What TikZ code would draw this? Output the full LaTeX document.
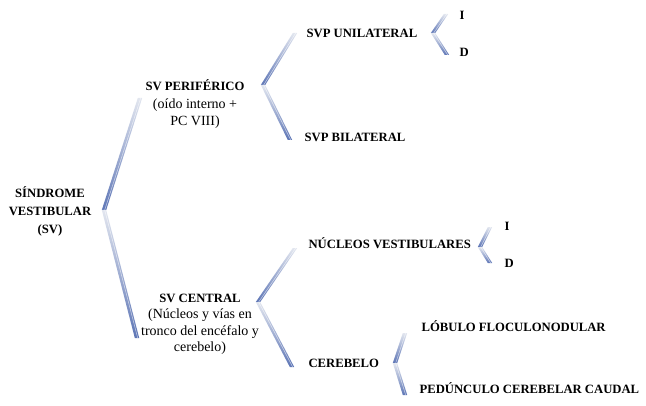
\documentclass[tikz,border=0pt]{standalone}
\usepackage{fontspec}
\setmainfont{Liberation Serif}
\usepackage{tikz}
\usetikzlibrary{positioning}
\definecolor{brBlue}{HTML}{5E76B6}
\definecolor{brLight}{HTML}{E2E6EF}

\begin{document}
\begin{tikzpicture}[x=0.75pt,y=-0.75pt,
  head/.style={font=\fontsize{9.5}{13.5}\selectfont\bfseries,inner sep=1pt},
  sub/.style={font=\fontsize{10.5}{12.5}\selectfont,align=center,inner sep=1pt},
  arm/.style={top color=brLight,bottom color=brBlue,draw=none}]
  \useasboundingbox (0,0) rectangle (646,406);
  % brackets (top / vertex / bottom)
  \foreach \tx/\ty/\vx/\vy/\bx/\by in {140/98/104/210/137/338, 295/33/263/85/290/140,
      446/14/433/33/447/55, 295/248/258/302/292/367, 490/227/480/247/490/263, 405/333/395/363/405/395}{
    \shade[arm] (\tx-2.2,\ty) -- (\tx+2.2,\ty) -- (\vx+2.2,\vy) -- (\vx-2.2,\vy) -- cycle;
    \shade[arm] (\vx-2.2,\vy) -- (\vx+2.2,\vy) -- (\bx+2.2,\by) -- (\bx-2.2,\by) -- cycle;
    \draw[white,opacity=.6,line width=.4pt] (\tx+.7,\ty) -- (\vx+.7,\vy) -- (\bx+.7,\by);}
  % root
  \node[head,align=center] (sv) at (50,211) {SÍNDROME\\VESTIBULAR\\(SV)};
  % peripheral branch
  \node[head] (per) at (195,85) {SV PERIFÉRICO};
  \node[sub,below=4pt of per] (perTxt) {(oído interno +\\PC VIII)};
  \node[head,anchor=west] (uni) at (305,33) {SVP UNILATERAL};
  \node[head,anchor=west] (bil) at (303,137) {SVP BILATERAL};
  \node[head,anchor=west] (uniI) at (458,15) {I};
  \node[head,anchor=west] (uniD) at (458,52) {D};
  % central branch
  \node[head] (cen) at (200,298) {SV CENTRAL};
  \node[sub,below=2.5pt of cen] (cenTxt) {(Núcleos y vías en\\tronco del encéfalo y\\cerebelo)};
  \node[head,anchor=west] (nuc) at (307,243) {NÚCLEOS VESTIBULARES};
  \node[head,anchor=west] (nucI) at (503,226) {I};
  \node[head,anchor=west] (nucD) at (503,263) {D};
  \node[head,anchor=west] (cer) at (307,363) {CEREBELO};
  \node[head,anchor=west] (lob) at (420,326) {LÓBULO FLOCULONODULAR};
  \node[head,anchor=west] (ped) at (418,388) {PEDÚNCULO CEREBELAR CAUDAL};
\end{tikzpicture}
\end{document}
